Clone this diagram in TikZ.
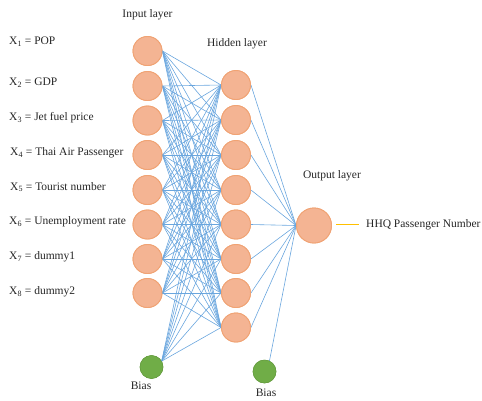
\documentclass[tikz,border=0pt]{standalone}
\usepackage{fontspec}
\setmainfont{Liberation Serif}
\definecolor{nfill}{HTML}{F4B493}
\definecolor{ndraw}{HTML}{F0A374}
\definecolor{lblue}{HTML}{6AA6DE}
\definecolor{bgreen}{HTML}{70AD47}
\definecolor{oline}{HTML}{FFC000}
\definecolor{tcol}{HTML}{262626}
\tikzset{
  neuron/.style={circle,fill=nfill,draw=ndraw,line width=0.9pt,minimum size=29pt,inner sep=0pt},
  outneuron/.style={circle,fill=nfill,draw=ndraw,line width=0.9pt,minimum size=35pt,inner sep=0pt},
  biasnode/.style={circle,fill=bgreen,draw=bgreen!90!black,line width=0.5pt,minimum size=23pt,inner sep=0pt},
  conn/.style={draw=lblue,line width=0.6pt},
  lbl/.style={font=\fontsize{11.5}{13}\selectfont,text=tcol,inner sep=0pt},
  varlbl/.style={lbl,anchor=west}
}
\begin{document}
\begin{tikzpicture}[x=1pt,y=-1pt]
\useasboundingbox (0,0) rectangle (482,400);
% input nodes
\foreach \i/\y in {1/51,2/86,3/120.5,4/155,5/190,6/224.5,7/259,8/293}{
  \node[neuron] (in\i) at (147.5,\y) {};
}
\node[biasnode] (bin) at (151.5,367) {};
% hidden nodes
\foreach \i/\y in {1/85,2/120,3/155,4/190,5/224.5,6/259,7/293,8/327.5}{
  \node[neuron] (h\i) at (236,\y) {};
}
\node[biasnode] (bh) at (264.5,371.5) {};
% output node
\node[outneuron] (out) at (314,225.5) {};
% connections
\foreach \i in {1,...,8}{
  \foreach \j in {1,...,8}{
    \draw[conn] (in\i.east) -- (h\j.west);
  }
}
\foreach \j in {1,...,8}{
  \draw[conn] (bin.30) -- (h\j.west);
  \draw[conn] (h\j.east) -- (out.west);
}
\draw[conn] (bh.65) -- (out.west);
% redraw nodes on top of connectors
\foreach \i/\y in {1/51,2/86,3/120.5,4/155,5/190,6/224.5,7/259,8/293}{
  \node[neuron] at (147.5,\y) {};
}
\foreach \i/\y in {1/85,2/120,3/155,4/190,5/224.5,6/259,7/293,8/327.5}{
  \node[neuron] at (236,\y) {};
}
\node[biasnode] at (151.5,367) {};
\node[biasnode] at (264.5,371.5) {};
\node[outneuron] at (314,225.5) {};
% layer labels
\node[lbl] (tin) at (147.5,15) {Input layer};
\node[lbl] (thid) at (237,43.5) {Hidden layer};
\node[lbl] (tout) at (332,175.5) {Output layer};
\node[lbl] (tbin) at (141,385.5) {Bias};
\node[lbl] (tbh) at (266,393) {Bias};
% variable labels
\node[varlbl] (x1) at (9,42) {X\textsubscript{1} = POP};
\node[varlbl] (x2) at (9,83) {X\textsubscript{2} = GDP};
\node[varlbl] (x3) at (9,118) {X\textsubscript{3} = Jet fuel price};
\node[varlbl] (x4) at (10,153) {X\textsubscript{4} = Thai Air Passenger};
\node[varlbl] (x5) at (10,187) {X\textsubscript{5} = Tourist number};
\node[varlbl] (x6) at (9,222) {X\textsubscript{6} = Unemployment rate};
\node[varlbl] (x7) at (9,257) {X\textsubscript{7} = dummy1};
\node[varlbl] (x8) at (9,292) {X\textsubscript{8} = dummy2};
% output
\coordinate (oa) at (336,224.5);
\coordinate (ob) at (359,224.5);
\draw[oline,line width=1.8pt] (oa) -- (ob);
\node[varlbl] (olbl) at (366,224.5) {HHQ Passenger Number};
\end{tikzpicture}
\end{document}
